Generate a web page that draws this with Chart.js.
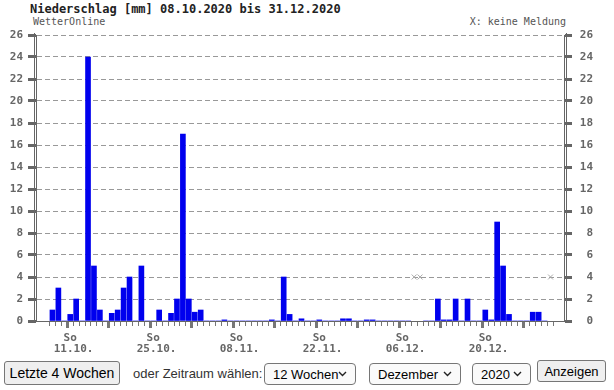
<!DOCTYPE html>
<html lang="de">
<head>
<meta charset="utf-8">
<script src="https://cdn.jsdelivr.net/npm/chart.js@4/dist/chart.umd.min.js"></script>
<style>
  html, body { margin: 0; padding: 0; background: #fff; }
  body { width: 614px; height: 390px; position: relative; overflow: hidden; }
  #title { position: absolute; left: 30px; top: 2px; font: bold 12px 'DejaVu Sans Mono', monospace; color: #222; line-height: 14px; white-space: pre; }
  #src { position: absolute; left: 33px; top: 16px; font: 10px 'DejaVu Sans Mono', monospace; color: #555; line-height: 12px; }
  #note { position: absolute; right: 48px; top: 16px; font: 10px 'DejaVu Sans Mono', monospace; color: #555; line-height: 12px; }
  #wrap { position: absolute; left: 0; top: 0; width: 614px; height: 360px; }
  .ctl { position: absolute; font-family: 'Liberation Sans', Arial, sans-serif; box-sizing: border-box; }
  button.ctl { background: #efefef; border: 1px solid #767676; border-radius: 3px; color: #000; padding: 0; }
  select.ctl {
    -webkit-appearance: none; appearance: none;
    background-color: #fafafa;
    background-image: url("data:image/svg+xml;utf8,<svg xmlns='http://www.w3.org/2000/svg' width='9' height='6'><path d='M1 1 L4.5 4.5 L8 1' fill='none' stroke='%23222' stroke-width='1.4'/></svg>");
    background-repeat: no-repeat; background-position: right 8px center;
    border: 1px solid #767676; border-radius: 4px; color: #000; font-size: 13px; padding: 0 0 0 8px;
  }
</style>
</head>
<body>
<div id="title">Niederschlag [mm] 08.10.2020 bis 31.12.2020</div>
<div id="src">WetterOnline</div>
<div id="note">X: keine Meldung</div>
<div id="wrap"><canvas id="c" width="614" height="360"></canvas></div>

<button class="ctl" style="left:4px; top:361px; width:116px; height:24px; font-size:14px;">Letzte 4 Wochen</button>
<span class="ctl" style="left:133px; top:366px; font-size:13px; color:#333;">oder Zeitraum wählen:</span>
<select class="ctl" style="left:264px; top:363px; width:92px; height:22px;"><option>12 Wochen</option></select>
<select class="ctl" style="left:369px; top:363px; width:92px; height:22px;"><option>Dezember</option></select>
<select class="ctl" style="left:472px; top:363px; width:59px; height:22px;"><option>2020</option></select>
<button class="ctl" style="left:537px; top:360px; width:69px; height:22px; font-size:13px;">Anzeigen</button>

<script>
// ---- data ----
const startDate = new Date(2020, 9, 8);   // 08.10.2020
const dayCount = 85;                       // 08.10. .. 31.12.
const weekdayNames = ['So', 'Mo', 'Di', 'Mi', 'Do', 'Fr', 'Sa'];
const days = [];
const weekdays = [];
for (let i = 0; i < dayCount; i++) {
  const d = new Date(startDate.getFullYear(), startDate.getMonth(), startDate.getDate() + i);
  days.push(String(d.getDate()).padStart(2, '0') + '.' + String(d.getMonth() + 1).padStart(2, '0') + '.');
  weekdays.push(weekdayNames[d.getDay()]);
}

// daily precipitation in mm (null = keine Meldung)
const rain = [
  1.0, 3.0, 0, 0.6, 2.0, 0, 24.0, 5.0, 1.0, 0,        // 08.10.-17.10.
  0.7, 1.0, 3.0, 4.0, 0, 5.0, 0, 0, 1.0, 0,           // 18.10.-27.10.
  0.7, 2.0, 17.0, 2.0, 0.8, 1.0, 0, 0, 0, 0.1,        // 28.10.-06.11.
  0, 0, 0, 0, 0, 0, 0, 0.1, 0, 4.0,                   // 07.11.-16.11.
  0.6, 0, 0.2, 0, 0, 0.1, 0, 0, 0, 0.2,               // 17.11.-26.11.
  0.2, 0, 0, 0.1, 0.1, 0, 0, 0, 0, 0,                 // 27.11.-06.12.
  0, null, null, 0, 0, 2.0, 0.1, 0.1, 2.0, 0,         // 07.12.-16.12.
  2.0, 0, 0, 1.0, 0.1, 9.0, 5.0, 0.6, 0, 0,           // 17.12.-26.12.
  0, 0.8, 0.8, 0, null                                // 27.12.-31.12.
];
const missingLevel = 4;   // height at which "X" (keine Meldung) is shown
const yTicks = [0, 2, 4, 6, 8, 10, 12, 14, 16, 18, 20, 22, 24, 26];

// ---- chart ----
const missing = rain.map((v, i) => v === null ? i : -1).filter(i => i >= 0);
const isSunday = i => weekdays[i] === 'So';
const firstSunday = weekdays.indexOf('So');
const isLabelled = i => isSunday(i) && ((i - firstSunday) % 14 === 0);
const tickVal = c => (c && c.tick) ? c.tick.value : -1;

const monoTick = { family: 'DejaVu Sans Mono', size: 11, weight: 'bold', lineHeight: 1.0 };

const doubleAxis = {
  id: 'doubleAxis',
  afterDraw(chart) {
    const { ctx, chartArea } = chart;
    ctx.save();
    ctx.strokeStyle = '#666';
    ctx.lineWidth = 1;
    ctx.beginPath();
    ctx.moveTo(chartArea.left - 1.5, chartArea.top - 2);
    ctx.lineTo(chartArea.left - 1.5, chartArea.bottom + 1);
    ctx.moveTo(chartArea.right + 2.5, chartArea.top - 2);
    ctx.lineTo(chartArea.right + 2.5, chartArea.bottom + 1);
    ctx.stroke();
    ctx.restore();
  }
};

new Chart(document.getElementById('c'), {
  data: {
    datasets: [
      {
        type: 'bar',
        data: rain.map((v, i) => ({ x: i, y: v })),
        backgroundColor: '#0000ee',
        borderWidth: 0,
        barThickness: 5,
        xAxisID: 'x', yAxisID: 'y'
      },
      {
        type: 'scatter',
        data: missing.map(i => ({ x: i, y: missingLevel })),
        pointStyle: 'crossRot',
        radius: 3.5,
        borderColor: '#aaa',
        backgroundColor: 'rgba(0,0,0,0)',
        borderWidth: 1,
        xAxisID: 'x', yAxisID: 'y'
      }
    ]
  },
  options: {
    responsive: false,
    animation: false,
    events: [],
    layout: { padding: { top: 35, right: 21, left: 0, bottom: 0 } },
    plugins: { legend: { display: false }, tooltip: { enabled: false } },
    scales: {
      x: {
        type: 'linear',
        position: 'bottom',
        min: -2.25, max: 85.75,
        afterBuildTicks: s => { s.ticks = days.map((d, i) => ({ value: i })); },
        afterFit: s => { s.height = 39; },
        grid: {
          drawOnChartArea: false,
          tickLength: 7,
          tickColor: '#777',
          tickWidth: c => isSunday(tickVal(c)) ? 3 : 1,
          tickBorderDash: c => isSunday(tickVal(c)) ? [] : [4, 100]
        },
        border: { color: '#666', width: 1 },
        ticks: {
          autoSkip: false, maxRotation: 0, minRotation: 0, padding: 5,
          font: monoTick, color: '#666',
          callback: v => isLabelled(v) ? [weekdays[v], '\u2003' + days[v]] : ''
        }
      },
      y: {
        position: 'left',
        min: 0, max: 26,
        afterBuildTicks: s => { s.ticks = yTicks.map(v => ({ value: v })); },
        afterFit: s => { s.width = 36; },
        ticks: { font: monoTick, color: '#666', padding: 5 },
        border: { color: '#666', width: 1, dash: [5, 3] },
        grid: {
          color: c => tickVal(c) === 0 ? 'rgba(0,0,0,0)' : '#999',
          lineWidth: 1,
          tickColor: '#666', tickWidth: 3, tickLength: 8
        }
      },
      y2: {
        position: 'right',
        min: 0, max: 26,
        afterBuildTicks: s => { s.ticks = yTicks.map(v => ({ value: v })); },
        afterFit: s => { s.width = 29; },
        ticks: { font: monoTick, color: '#666', padding: 5, crossAlign: 'far' },
        border: { color: '#666', width: 1 },
        grid: { drawOnChartArea: false, tickColor: '#666', tickWidth: 3, tickLength: 8 }
      }
    }
  },
  plugins: [doubleAxis]
});
</script>
</body>
</html>
